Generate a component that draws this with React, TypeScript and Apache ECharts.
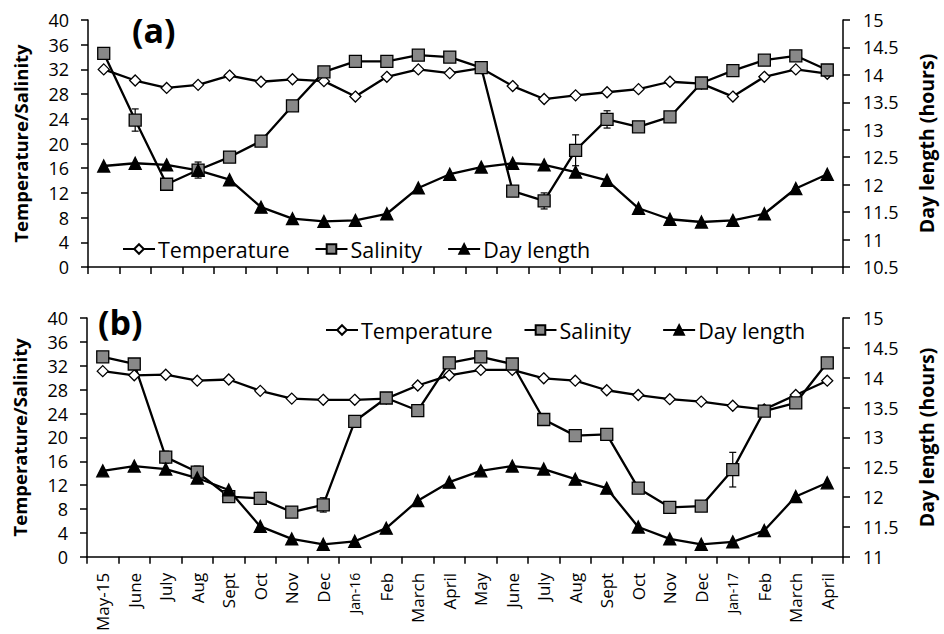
import React, { useEffect, useRef } from "react";
import * as echarts from "echarts";

const categories = ["May-15","June","July","Aug","Sept","Oct","Nov","Dec","Jan-16","Feb","March","April","May","June","July","Aug","Sept","Oct","Nov","Dec","Jan-17","Feb","March","April"];

const tempA = [32.0, 30.2, 29.0, 29.5, 31.0, 30.0, 30.4, 30.1, 27.6, 30.8, 32.0, 31.4, 32.2, 29.3, 27.2, 27.8, 28.3, 28.8, 30.0, 29.7, 27.6, 30.8, 32.0, 31.3];
const salA = [34.6, 23.8, 13.4, 15.7, 17.8, 20.4, 26.1, 31.6, 33.3, 33.3, 34.3, 34.0, 32.3, 12.3, 10.7, 18.9, 23.9, 22.7, 24.3, 29.8, 31.8, 33.5, 34.2, 31.9];
const salErrA = [0, 1.8, 0, 1.3, 0, 0, 0, 0, 0, 0, 0, 0, 0, 0, 1.3, 2.5, 1.4, 0, 0.5, 0, 0, 0, 0, 0];
const dayA = [12.34, 12.39, 12.36, 12.26, 12.09, 11.59, 11.38, 11.33, 11.35, 11.47, 11.94, 12.19, 12.32, 12.39, 12.36, 12.23, 12.08, 11.57, 11.37, 11.32, 11.35, 11.47, 11.93, 12.19];

const tempB = [31.1, 30.4, 30.5, 29.5, 29.7, 27.8, 26.5, 26.3, 26.3, 26.5, 28.7, 30.4, 31.3, 31.3, 29.9, 29.5, 27.9, 27.1, 26.4, 26.0, 25.3, 24.7, 27.1, 29.5];
const salB = [33.5, 32.3, 16.7, 14.2, 10.1, 9.8, 7.5, 8.7, 22.7, 26.6, 24.5, 32.5, 33.5, 32.3, 23.0, 20.3, 20.5, 11.5, 8.3, 8.5, 14.6, 24.4, 25.8, 32.5];
const salErrB = [0, 0, 1.0, 1.0, 0, 1.0, 0.6, 1.2, 0, 0, 0, 0, 0, 0, 0, 0, 0, 0, 0, 0.7, 2.9, 0.8, 0, 0];
const dayB = [12.44, 12.52, 12.47, 12.32, 12.12, 11.51, 11.30, 11.21, 11.26, 11.48, 11.94, 12.25, 12.44, 12.52, 12.47, 12.30, 12.15, 11.50, 11.30, 11.21, 11.25, 11.44, 12.01, 12.24];

const leftTicks = { min: 0, max: 40, interval: 4 };
const rightTicksA = { min: 10.5, max: 15, interval: 0.5 };
const rightTicksB = { min: 11, max: 15, interval: 0.5 };

const FONT = "Open Sans";
const BLACK = "#000";

function App() {
  const ref = useRef<HTMLDivElement>(null);
  useEffect(() => {
    if (!ref.current) return;
    const chart = echarts.init(ref.current, null, { renderer: "svg" });

    const xAxisBase = (gridIndex: number, showLabels: boolean) => ({
      type: "category",
      gridIndex,
      data: categories,
      boundaryGap: true,
      axisLine: { lineStyle: { color: BLACK, width: 1.5 } },
      axisTick: { show: true, interval: 0, length: 7, lineStyle: { color: BLACK, width: 1.5 } },
      axisLabel: {
        show: showLabels,
        interval: 0,
        rotate: 90,
        margin: 16,
        color: BLACK,
        fontFamily: FONT,
        fontSize: 17,
        formatter: (v: string) => (v.startsWith("Jan") ? "{s|" + v + "}" : v),
        rich: { s: { fontSize: 14, fontFamily: FONT, color: BLACK } },
      },
      splitLine: { show: false },
    });

    const leftAxis = (gridIndex: number) => ({
      type: "value",
      gridIndex,
      position: "left",
      ...leftTicks,
      name: "Temperature/Salinity",
      nameLocation: "middle",
      nameRotate: 90,
      nameGap: 58,
      nameTextStyle: { fontFamily: FONT, fontSize: 18.5, fontWeight: "bold", color: BLACK },
      axisLine: { show: true, lineStyle: { color: BLACK, width: 1.5 } },
      axisTick: { show: true, length: 7, lineStyle: { color: BLACK, width: 1.5 } },
      axisLabel: { color: BLACK, fontFamily: FONT, fontSize: 18, margin: 19 },
      splitLine: { show: false },
    });

    const rightAxis = (gridIndex: number, ticks: any) => ({
      type: "value",
      gridIndex,
      position: "right",
      ...ticks,
      name: "Day length (hours)",
      nameLocation: "middle",
      nameRotate: 90,
      nameGap: 73,
      nameTextStyle: { fontFamily: FONT, fontSize: 19.5, fontWeight: "bold", color: BLACK },
      axisLine: { show: true, lineStyle: { color: BLACK, width: 1.5 } },
      axisTick: { show: true, length: 7, lineStyle: { color: BLACK, width: 1.5 } },
      axisLabel: { color: BLACK, fontFamily: FONT, fontSize: 18, margin: 20 },
      splitLine: { show: false },
    });

    const lineSeries = (name: string, data: number[], xi: number, yi: number, symbol: string, size: number, fill: string) => ({
      type: "line",
      name,
      data,
      xAxisIndex: xi,
      yAxisIndex: yi,
      symbol,
      symbolSize: size,
      showAllSymbol: true,
      lineStyle: { color: BLACK, width: 2.3 },
      itemStyle: { color: fill, borderColor: BLACK, borderWidth: 1.3 },
      z: 3,
    });

    const errSeries = (vals: number[], errs: number[], xi: number, yi: number) => ({
      type: "custom",
      xAxisIndex: xi,
      yAxisIndex: yi,
      z: 2,
      silent: true,
      data: vals.map((v, i) => [i, v - errs[i], v + errs[i]]).filter((_, i) => errs[i] > 0),
      renderItem: (_p: any, api: any) => {
        const lo = api.coord([api.value(0), api.value(1)]);
        const hi = api.coord([api.value(0), api.value(2)]);
        const w = 3.5;
        const st = { stroke: BLACK, lineWidth: 1.2 };
        return {
          type: "group",
          children: [
            { type: "line", shape: { x1: lo[0], y1: lo[1], x2: hi[0], y2: hi[1] }, style: st },
            { type: "line", shape: { x1: lo[0] - w, y1: lo[1], x2: lo[0] + w, y2: lo[1] }, style: st },
            { type: "line", shape: { x1: hi[0] - w, y1: hi[1], x2: hi[0] + w, y2: hi[1] }, style: st },
          ],
        };
      },
    });

    const legendBase = {
      data: ["Temperature", "Salinity", "Day length"],
      itemWidth: 32,
      itemHeight: 12,
      textStyle: { fontFamily: FONT, fontSize: 21.5, color: BLACK, padding: [0, 0, 0, -2] },
      selectedMode: false,
    };

    chart.setOption({
      animation: false,
      backgroundColor: "#fff",
      textStyle: { fontFamily: FONT },
      grid: [
        { left: 88, right: 97, top: 20, height: 247 },
        { left: 87, right: 96, top: 318, height: 244 },
      ],
      legend: [
        { ...legendBase, itemGap: 25, left: 117, top: 233 },
        { ...legendBase, itemGap: 31, left: 320, top: 314 },
      ],
      xAxis: [xAxisBase(0, false), xAxisBase(1, true)],
      yAxis: [leftAxis(0), rightAxis(0, rightTicksA), leftAxis(1), rightAxis(1, rightTicksB)],
      graphic: [
        { type: "text", left: 132, top: 13, style: { text: "(a)", font: `bold 34px "${FONT}"`, fill: BLACK } },
        { type: "text", left: 98, top: 305, style: { text: "(b)", font: `bold 34px "${FONT}"`, fill: BLACK } },
      ],
      series: [
        errSeries(salA, salErrA, 0, 0),
        lineSeries("Temperature", tempA, 0, 0, "diamond", 11, "#fff"),
        lineSeries("Salinity", salA, 0, 0, "rect", 12, "#888"),
        lineSeries("Day length", dayA, 0, 1, "triangle", 12, BLACK),
        errSeries(salB, salErrB, 1, 2),
        lineSeries("Temperature", tempB, 1, 2, "diamond", 11, "#fff"),
        lineSeries("Salinity", salB, 1, 2, "rect", 12, "#888"),
        lineSeries("Day length", dayB, 1, 3, "triangle", 12, BLACK),
      ],
    });
    return () => chart.dispose();
  }, []);
  return <div ref={ref} style={{ position: "fixed", left: 0, top: 0, width: 944, height: 634 }} />;
}

export default App;
